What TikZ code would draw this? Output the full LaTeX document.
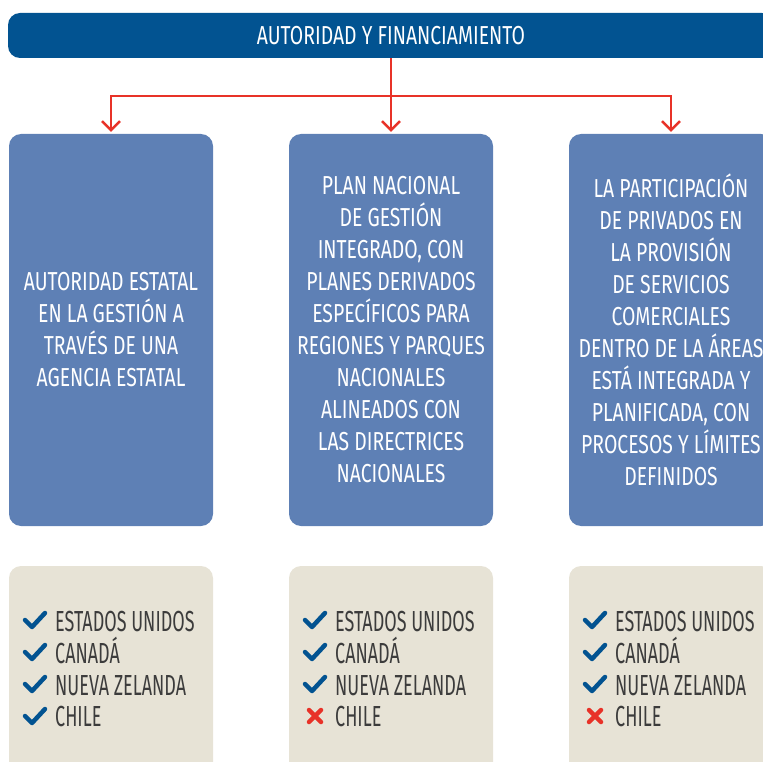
\documentclass[tikz,border=0pt]{standalone}
\usepackage{fontspec}
\setmainfont{Fira Sans}[FakeStretch=0.745]
\newfontfamily\beigeft{Fira Sans}[FakeStretch=0.62]
\usetikzlibrary{arrows.meta}
\definecolor{darkblue}{RGB}{2,83,145}
\definecolor{boxblue}{RGB}{94,128,181}
\definecolor{beige}{RGB}{231,227,214}
\definecolor{redline}{RGB}{232,50,40}
\definecolor{txtgray}{RGB}{60,60,60}
\tikzset{
  bluebox/.style={fill=boxblue, rounded corners=12pt, minimum width=204pt, minimum height=392pt,
    text=white, align=center, inner sep=0pt, font=\fontsize{26}{32}\selectfont},
  beigebox/.style={fill=beige, rounded corners=12pt, minimum width=204pt, minimum height=240pt, inner sep=0pt},
  itemtxt/.style={anchor=base west, inner sep=0pt, text=txtgray, font=\beigeft\fontsize{29}{32}\selectfont},
  conn/.style={draw=redline, line width=2.6pt},
  arr/.style={conn, -{Straight Barb[length=9pt,width=18pt,line width=2.4pt]}, shorten >=2pt},
  chk/.style={draw=darkblue, line width=4.5pt, line cap=round, line join=round},
  crs/.style={draw=redline, line width=4.5pt, line cap=round}
}
\begin{document}
\begin{tikzpicture}[x=1pt,y=-1pt]
\useasboundingbox (0,0) rectangle (763,762);
\clip (0,0) rectangle (763,762);
\node[fill=darkblue, rounded corners=12pt, minimum width=766pt, minimum height=45pt, inner sep=0pt,
  text=white, font=\fontsize{26}{28}\selectfont] (top) at (391,35.5) {AUTORIDAD Y FINANCIAMIENTO};
\node[bluebox] (b1) at (111,330) {AUTORIDAD ESTATAL\\EN LA GESTIÓN A\\TRAVÉS DE UNA\\AGENCIA ESTATAL};
\node[bluebox] (b2) at (391,330) {PLAN NACIONAL\\DE GESTIÓN\\INTEGRADO, CON\\PLANES DERIVADOS\\ESPECÍFICOS PARA\\REGIONES Y PARQUES\\NACIONALES\\ALINEADOS CON\\LAS DIRECTRICES\\NACIONALES};
\node[bluebox] (b3) at (671,330) {LA PARTICIPACIÓN\\DE PRIVADOS EN\\LA PROVISIÓN\\DE SERVICIOS\\COMERCIALES\\DENTRO DE LA ÁREAS\\ESTÁ INTEGRADA Y\\PLANIFICADA, CON\\PROCESOS Y LÍMITES\\DEFINIDOS};
\coordinate (j) at (391,96);
\draw[conn] (top.south) -- (j);
\draw[arr] (j) -| (b1.north);
\draw[arr] (j) -- (b2.north);
\draw[arr] (j) -| (b3.north);
\foreach \i/\cx in {1/111,2/391,3/671}{
  \node[beigebox] (g\i) at (\cx,686) {};
  \node[itemtxt] (g\i a) at (\cx-56,631) {ESTADOS UNIDOS};
  \node[itemtxt] (g\i b) at (\cx-56,663) {CANADÁ};
  \node[itemtxt] (g\i c) at (\cx-56,695) {NUEVA ZELANDA};
  \node[itemtxt] (g\i d) at (\cx-56,726) {CHILE};
  \foreach \yy in {620,652,684}{
    \draw[chk] (\cx-86,\yy) -- (\cx-79,\yy+7) -- (\cx-66,\yy-7);
  }
}
\draw[chk] (25,716) -- (32,723) -- (45,709);
\draw[crs] (309,710) -- (321,722) (309,722) -- (321,710);
\draw[crs] (589,710) -- (601,722) (589,722) -- (601,710);
\end{tikzpicture}
\end{document}
